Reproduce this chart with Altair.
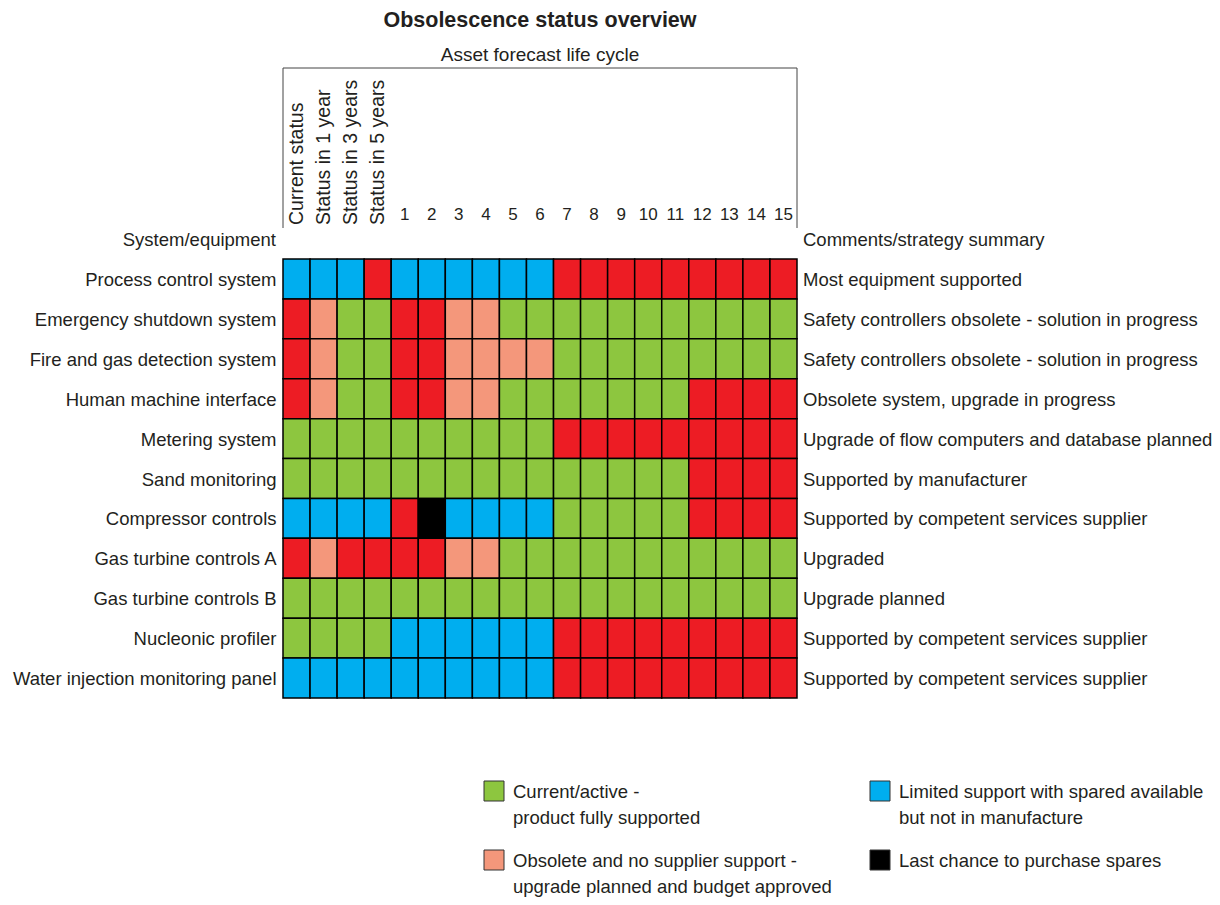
import altair as alt
import pandas as pd

# ---------------- data ----------------
columns = ["Current status", "Status in 1 year", "Status in 3 years", "Status in 5 years",
           "1", "2", "3", "4", "5", "6", "7", "8", "9", "10", "11", "12", "13", "14", "15"]

systems = ["Process control system", "Emergency shutdown system", "Fire and gas detection system",
           "Human machine interface", "Metering system", "Sand monitoring", "Compressor controls",
           "Gas turbine controls A", "Gas turbine controls B", "Nucleonic profiler",
           "Water injection monitoring panel"]

comments = ["Most equipment supported",
            "Safety controllers obsolete - solution in progress",
            "Safety controllers obsolete - solution in progress",
            "Obsolete system, upgrade in progress",
            "Upgrade of flow computers and database planned",
            "Supported by manufacturer",
            "Supported by competent services supplier",
            "Upgraded",
            "Upgrade planned",
            "Supported by competent services supplier",
            "Supported by competent services supplier"]

# G = current/active, B = limited support, O = obsolete/upgrade approved,
# K = last chance to buy, R = obsolete (red)
status_process   = ["B", "B", "B", "R", "B", "B", "B", "B", "B", "B", "R", "R", "R", "R", "R", "R", "R", "R", "R"]
status_esd       = ["R", "O", "G", "G", "R", "R", "O", "O", "G", "G", "G", "G", "G", "G", "G", "G", "G", "G", "G"]
status_fg        = ["R", "O", "G", "G", "R", "R", "O", "O", "O", "O", "G", "G", "G", "G", "G", "G", "G", "G", "G"]
status_hmi       = ["R", "O", "G", "G", "R", "R", "O", "O", "G", "G", "G", "G", "G", "G", "G", "R", "R", "R", "R"]
status_metering  = ["G", "G", "G", "G", "G", "G", "G", "G", "G", "G", "R", "R", "R", "R", "R", "R", "R", "R", "R"]
status_sand      = ["G", "G", "G", "G", "G", "G", "G", "G", "G", "G", "G", "G", "G", "G", "G", "R", "R", "R", "R"]
status_compr     = ["B", "B", "B", "B", "R", "K", "B", "B", "B", "B", "G", "G", "G", "G", "G", "R", "R", "R", "R"]
status_gta       = ["R", "O", "R", "R", "R", "R", "O", "O", "G", "G", "G", "G", "G", "G", "G", "G", "G", "G", "G"]
status_gtb       = ["G", "G", "G", "G", "G", "G", "G", "G", "G", "G", "G", "G", "G", "G", "G", "G", "G", "G", "G"]
status_nucleonic = ["G", "G", "G", "G", "B", "B", "B", "B", "B", "B", "R", "R", "R", "R", "R", "R", "R", "R", "R"]
status_water     = ["B", "B", "B", "B", "B", "B", "B", "B", "B", "B", "R", "R", "R", "R", "R", "R", "R", "R", "R"]

status_rows = [status_process, status_esd, status_fg, status_hmi, status_metering, status_sand,
               status_compr, status_gta, status_gtb, status_nucleonic, status_water]

status_codes = ["G", "B", "O", "K", "R"]
status_colors = ["#8DC63F", "#00AEEF", "#F4977B", "#000000", "#ED1C24"]

legend_codes = ["G", "B", "O", "K"]
legend_line1 = ["Current/active -", "Limited support with spared available",
                "Obsolete and no supplier support -", "Last chance to purchase spares"]
legend_line2 = ["product fully supported", "but not in manufacture",
                "upgrade planned and budget approved", ""]

# ---------------- tables ----------------
cells = pd.DataFrame([
    {"system": s, "column": c, "status": v}
    for s, row in zip(systems, status_rows)
    for c, v in zip(columns, row)
])
rows_df = pd.DataFrame({"system": systems, "comment": comments})
cols_df = pd.DataFrame({"column": columns, "rotated": [len(c) > 2 for c in columns]})

FONT = "Liberation Sans, Arial, sans-serif"
TXT = "#231F20"
W, H = 514, 439
FS = 18.5

xs = alt.Scale(domain=columns, paddingInner=0, paddingOuter=0)
ys = alt.Scale(domain=systems, paddingInner=0, paddingOuter=0)
cs = alt.Scale(domain=status_codes, range=status_colors)

one = pd.DataFrame({"k": [0]})

heat = alt.Chart(cells).mark_rect(stroke="#000000", strokeWidth=1.5).encode(
    x=alt.X("column:O", scale=xs, axis=None),
    y=alt.Y("system:O", scale=ys,
            axis=alt.Axis(title=None, ticks=False, domain=False, labelPadding=7, labelOffset=1,
                          labelFont=FONT, labelFontSize=FS, labelColor=TXT, labelLimit=400)),
    color=alt.Color("status:N", scale=cs, legend=None),
)

comment_text = alt.Chart(rows_df).mark_text(
    align="left", baseline="middle", font=FONT, fontSize=FS, color=TXT, dy=1
).encode(
    y=alt.Y("system:O", scale=ys), x=alt.value(W + 6), text="comment:N"
)

head_rot = alt.Chart(cols_df).transform_filter("datum.rotated").mark_text(
    align="left", baseline="middle", angle=270, font=FONT, fontSize=19.5, color=TXT
).encode(x=alt.X("column:O", scale=xs), y=alt.value(-34), text="column:N")

head_num = alt.Chart(cols_df).transform_filter("!datum.rotated").mark_text(
    align="center", baseline="middle", font=FONT, fontSize=17, color=TXT
).encode(x=alt.X("column:O", scale=xs), y=alt.value(-44), text="column:N")

def label(text, x, y, align="center", size=FS, weight="normal"):
    return alt.Chart(one).mark_text(
        align=align, baseline="middle", font=FONT, fontSize=size, fontWeight=weight, color=TXT
    ).encode(x=alt.value(x), y=alt.value(y), text=alt.value(text))

title = label("Obsolescence status overview", W / 2, -238, size=21.5, weight="bold")
subtitle = label("Asset forecast life cycle", W / 2, -204, size=19)
left_head = label("System/equipment", -7, -19, align="right")
right_head = label("Comments/strategy summary", W + 6, -19, align="left")

box_top = alt.Chart(one).mark_rule(color="#444444", strokeWidth=1).encode(
    x=alt.value(0), x2=alt.value(W), y=alt.value(-191))
box_left = alt.Chart(one).mark_rule(color="#444444", strokeWidth=1).encode(
    x=alt.value(0), y=alt.value(-191), y2=alt.value(-31))
box_right = alt.Chart(one).mark_rule(color="#444444", strokeWidth=1).encode(
    x=alt.value(W), y=alt.value(-191), y2=alt.value(-31))

# ---------------- legend (2 x 2 grid) ----------------
legend_layers = []
lx0, ly0, dx, dy, sq = 201, 522, 386, 69, 20
for i, (code, l1, l2) in enumerate(zip(legend_codes, legend_line1, legend_line2)):
    cx = lx0 + (i % 2) * dx
    cy = ly0 + (i // 2) * dy
    col = status_colors[status_codes.index(code)]
    legend_layers.append(alt.Chart(one).mark_rect(color=col, stroke="#333333", strokeWidth=1).encode(
        x=alt.value(cx), x2=alt.value(cx + sq), y=alt.value(cy), y2=alt.value(cy + sq)))
    legend_layers.append(label(l1, cx + sq + 9, cy + 11, align="left", size=18.5))
    if l2:
        legend_layers.append(label(l2, cx + sq + 9, cy + 37, align="left", size=18.5))

chart = alt.layer(
    heat, comment_text, head_rot, head_num, title, subtitle, left_head, right_head,
    box_top, box_left, box_right, *legend_layers
).properties(
    width=W, height=H,
    autosize=alt.AutoSizeParams(type="none"),
    padding={"left": 275, "top": 251, "right": 415, "bottom": 199},
).configure_view(stroke=None)

chart.save("out.html", embed_options={"renderer": "svg", "actions": False})
